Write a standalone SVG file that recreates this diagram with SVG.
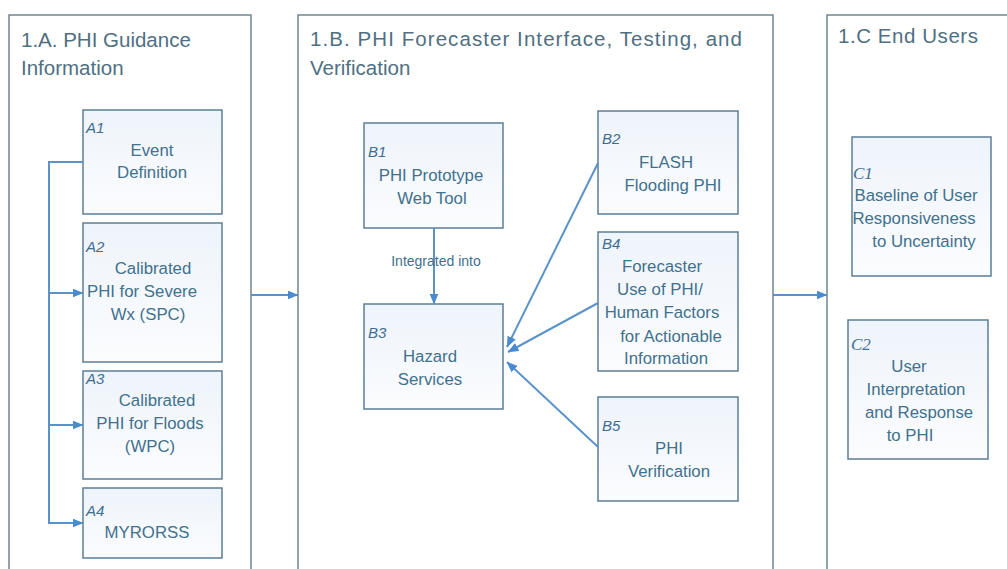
<svg xmlns="http://www.w3.org/2000/svg" width="1007" height="569" viewBox="0 0 1007 569">
<defs>
<marker id="ah" markerUnits="userSpaceOnUse" markerWidth="11" markerHeight="10" refX="10.5" refY="4.5" orient="auto">
<path d="M0,0 L11,4.5 L0,9 z" fill="#4a8bd0"/>
</marker>
<linearGradient id="nf" x1="0" y1="0" x2="0" y2="1">
<stop offset="0" stop-color="#eef4fb"/>
<stop offset="1" stop-color="#fbfcfe"/>
</linearGradient>
<style>
.panel{fill:#ffffff;stroke:#6c7d89;stroke-width:1.4}
.node{fill:url(#nf);stroke:#5d7e97;stroke-width:1.5}
.title{font-family:"Liberation Sans",Arial,sans-serif;font-size:20.5px;fill:#4f6f82}
.t{font-family:"Liberation Sans",Arial,sans-serif;font-size:16.8px;fill:#41718d;text-anchor:middle}
.id{font-family:"Liberation Sans",Arial,sans-serif;font-size:15px;font-style:italic;fill:#3f6d92}
.ids{font-family:"Liberation Serif","Times New Roman",serif;font-size:17px;font-style:italic;fill:#3f6d92}
.lab{font-family:"Liberation Sans",Arial,sans-serif;font-size:14px;fill:#41718d;text-anchor:middle}
.c{fill:none;stroke:#5a93c9;stroke-width:2}
</style>
</defs>
<rect width="1007" height="569" fill="#ffffff"/>

<g id="panelA">
<rect class="panel" x="9" y="15" width="242" height="600"/>
<text class="title" x="21" y="47">1.A. PHI Guidance</text>
<text class="title" x="21" y="75">Information</text>
</g>
<g id="panelB">
<rect class="panel" x="298" y="15" width="475" height="600"/>
<text class="title" x="310" y="46" textLength="432">1.B. PHI Forecaster Interface, Testing, and</text>
<text class="title" x="310" y="75">Verification</text>
</g>
<g id="panelC">
<rect class="panel" x="827" y="15" width="250" height="600"/>
<text class="title" x="838" y="43" textLength="140">1.C End Users</text>
</g>

<g id="A1">
<rect class="node" x="83" y="110" width="139" height="104"/>
<text class="id" x="86" y="133">A1</text>
<text class="t" x="152" y="156">Event</text>
<text class="t" x="152" y="178">Definition</text>
</g>
<g id="A2">
<rect class="node" x="83" y="223" width="139" height="139"/>
<text class="id" x="86" y="252">A2</text>
<text class="t" x="153" y="274">Calibrated</text>
<text class="t" x="142" y="297">PHI for Severe</text>
<text class="t" x="148" y="320">Wx (SPC)</text>
</g>
<g id="A3">
<rect class="node" x="83" y="371" width="139" height="108"/>
<text class="id" x="86" y="384">A3</text>
<text class="t" x="157" y="406">Calibrated</text>
<text class="t" x="150" y="429">PHI for Floods</text>
<text class="t" x="150" y="452">(WPC)</text>
</g>
<g id="A4">
<rect class="node" x="83" y="488" width="139" height="70"/>
<text class="id" x="86" y="516">A4</text>
<text class="t" x="147" y="538">MYRORSS</text>
</g>

<g id="B1">
<rect class="node" x="364" y="123" width="139" height="105"/>
<text class="id" x="368" y="157">B1</text>
<text class="t" x="431" y="181">PHI Prototype</text>
<text class="t" x="432" y="204">Web Tool</text>
</g>
<g id="B3">
<rect class="node" x="364" y="304" width="139" height="105"/>
<text class="id" x="368" y="338">B3</text>
<text class="t" x="430" y="362">Hazard</text>
<text class="t" x="430" y="385">Services</text>
</g>
<g id="B2">
<rect class="node" x="598" y="111" width="140" height="103"/>
<text class="id" x="602" y="144">B2</text>
<text class="t" x="666" y="168">FLASH</text>
<text class="t" x="673" y="191">Flooding PHI</text>
</g>
<g id="B4">
<rect class="node" x="598" y="232" width="140" height="139"/>
<text class="id" x="602" y="249">B4</text>
<text class="t" x="662" y="272">Forecaster</text>
<text class="t" x="660" y="295">Use of PHI/</text>
<text class="t" x="662" y="318">Human Factors</text>
<text class="t" x="671" y="342">for Actionable</text>
<text class="t" x="666" y="364">Information</text>
</g>
<g id="B5">
<rect class="node" x="598" y="397" width="140" height="104"/>
<text class="id" x="602" y="431">B5</text>
<text class="t" x="669" y="454">PHI</text>
<text class="t" x="669" y="477">Verification</text>
</g>

<g id="C1">
<rect class="node" x="852" y="137" width="139" height="139"/>
<text class="ids" x="853" y="179">C1</text>
<text class="t" x="916" y="201">Baseline of User</text>
<text class="t" x="914" y="224">Responsiveness</text>
<text class="t" x="924" y="247">to Uncertainty</text>
</g>
<g id="C2">
<rect class="node" x="848" y="320" width="140" height="139"/>
<text class="ids" x="851" y="350">C2</text>
<text class="t" x="909" y="372">User</text>
<text class="t" x="916" y="395">Interpretation</text>
<text class="t" x="919" y="418">and Response</text>
<text class="t" x="910" y="441">to PHI</text>
</g>

<g id="connectors">
<path class="c" d="M83,162 H49 V523 H83" marker-end="url(#ah)"/>
<path class="c" d="M49,293 H83" marker-end="url(#ah)"/>
<path class="c" d="M49,425 H83" marker-end="url(#ah)"/>
<path class="c" d="M251,295 H298" marker-end="url(#ah)"/>
<path class="c" d="M773,295 H827" marker-end="url(#ah)"/>
<path class="c" d="M434,228 V304" marker-end="url(#ah)"/>
<path class="c" d="M598,163 L507,347" marker-end="url(#ah)"/>
<path class="c" d="M598,303 L508,352" marker-end="url(#ah)"/>
<path class="c" d="M598,447 L507,362" marker-end="url(#ah)"/>
<text class="lab" x="436" y="266">Integrated into</text>
</g>
</svg>
